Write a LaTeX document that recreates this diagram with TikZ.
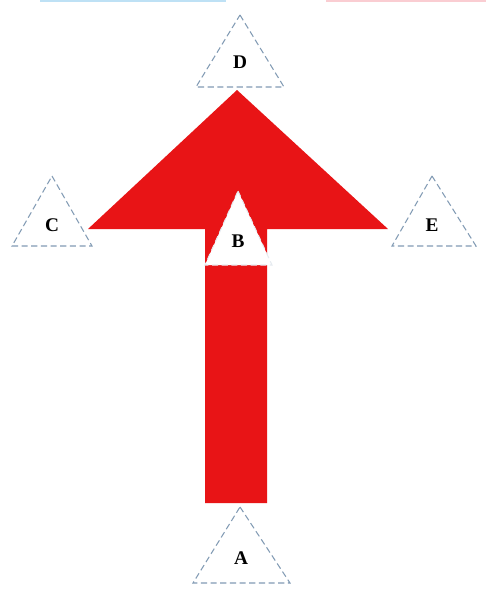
\documentclass[tikz,border=0pt]{standalone}
\usepackage{fontspec}
\setmainfont{Liberation Serif}
\definecolor{arrowred}{RGB}{232,20,22}
\definecolor{dashblue}{RGB}{130,155,180}
\definecolor{stripblue}{RGB}{190,225,245}
\definecolor{strippink}{RGB}{250,205,210}
\tikzset{
  mark tri/.style={draw=dashblue, dashed, dash pattern=on 3.5pt off 2pt, line width=0.6pt, fill=white},
  letter/.style={font=\fontsize{11}{13}\selectfont\bfseries}
}

\begin{document}
\begin{tikzpicture}[x=0.02cm,y=-0.02cm]
\useasboundingbox [fill=white] (0,0) rectangle (486,603);
\fill [stripblue] (40,0) rectangle (226,2);
\fill [strippink] (326,0) rectangle (486,2);
% the big arrow
\fill [arrowred] (237,90)--(388,229)--(267,229)--(267,503)--(205,503)--(205,229)--(88,229)--cycle;
% triangles
\draw [mark tri] (240,15)--(284,87)--(196,87)--cycle;
\draw [mark tri, draw=white!80!dashblue] (238,191)--(272,265)--(205,265)--cycle;
\draw [mark tri] (52,176)--(92,246)--(12,246)--cycle;
\draw [mark tri] (432,176)--(476,246)--(392,246)--cycle;
\draw [mark tri] (240,507)--(290,583)--(193,583)--cycle;
% letters
\node [letter] (labD) at (240,62) {D};
\node [letter] (labB) at (238,241) {B};
\node [letter] (labC) at (52,225) {C};
\node [letter] (labE) at (432,225) {E};
\node [letter] (labA) at (241,558) {A};
\end{tikzpicture}
\end{document}
